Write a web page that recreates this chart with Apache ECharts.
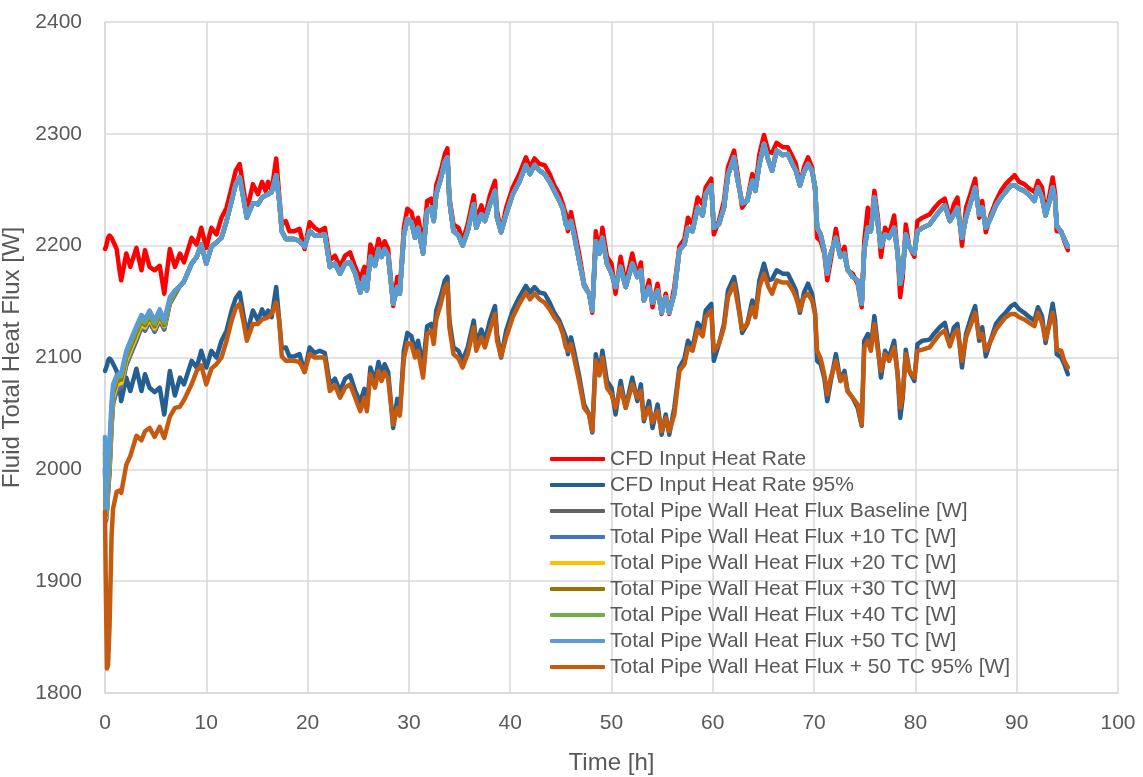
<!DOCTYPE html>
<html>
<head>
<meta charset="utf-8">
<title>Fluid Total Heat Flux</title>
<script src="https://cdn.jsdelivr.net/npm/echarts@6/dist/echarts.min.js"></script>
<style>
  html, body { margin: 0; padding: 0; background: #ffffff; }
  #chart { width: 1143px; height: 777px; }
</style>
</head>
<body>
<div id="chart"></div>
<script>
// Time axis shared by every run [h]
const hours = [
  0, 0.1, 0.2, 0.3, 0.45, 0.65, 0.8, 1.15, 1.4, 1.6, 2.1, 2.5, 3.1, 3.6, 3.95, 4.4, 4.9, 5.4, 5.85, 6.4, 6.9,
  7.4, 7.8, 8.55, 9.05, 9.5, 10.0, 10.5, 11.0, 11.5, 12.0, 12.5, 12.9, 13.3, 13.65, 14.0, 14.6, 15.1, 15.5, 15.85, 16.1, 16.45, 16.9, 17.2, 17.45, 17.85, 18.2, 18.7, 19.2, 19.7, 20.2, 20.7, 21.2, 21.7,
  22.2, 22.7, 23.2, 23.7, 24.2, 24.7, 25.2, 25.6, 25.85, 26.2, 26.65, 27.0, 27.3, 27.6, 27.95, 28.45, 28.85, 29.1, 29.5, 29.85, 30.25, 30.6, 30.9, 31.4, 31.8, 32.2, 32.45, 32.7, 33.15, 33.55, 33.8, 34.0, 34.4, 34.9, 35.3, 35.8, 36.4, 36.65, 37.15, 37.5, 38.0, 38.5, 38.7, 39.1, 39.6, 40.25, 40.9, 41.55, 41.95, 42.4, 42.9,
  43.4, 43.9, 44.35, 44.85, 45.2, 45.5, 45.7, 46.0, 46.3, 46.8, 47.3, 47.8, 48.1, 48.45, 48.8, 49.1, 49.55, 50.0, 50.4, 50.9, 51.4, 52.05, 52.55, 52.9, 53.2, 53.7, 54.05, 54.55, 54.95, 55.35, 55.7, 56.2, 56.7, 57.2, 57.55, 58.0, 58.5, 59.0, 59.3, 59.85, 60.1, 60.6, 61.1, 61.5, 62.1, 62.4, 62.9, 63.4, 63.9,
  64.2, 64.6, 65.05, 65.5, 65.85, 66.3, 66.9, 67.4, 67.9, 68.2, 68.6, 69.0, 69.4, 69.8, 70.1, 70.3, 70.65, 71.0, 71.3, 71.65, 72.15, 72.6, 73.0, 73.3, 73.8, 74.3, 74.7, 74.95, 75.3, 75.6, 75.95, 76.3, 76.6, 77.0, 77.4, 77.9, 78.25, 78.5, 78.75, 79.05, 79.4, 79.9, 80.2, 80.7, 81.4, 81.9, 82.4, 82.9, 83.4,
  83.8, 84.15, 84.6, 85.0, 85.5, 85.9, 86.3, 86.6, 86.95, 87.45, 87.95, 88.45, 88.9, 89.45, 89.8, 90.25, 90.75, 91.25, 91.75, 92.1, 92.5, 92.85, 93.25, 93.55, 93.8, 93.95, 94.4, 94.7, 95.05
];

// CFD Input Heat Rate [W]
const cfdInputHeatRate = [
  2197, 2199, 2203, 2207, 2209, 2207, 2206, 2197, 2180, 2169, 2193, 2181, 2198, 2178, 2196, 2181, 2178, 2182, 2157, 2197, 2181,
  2193, 2185, 2207, 2201, 2216, 2198, 2216, 2210, 2225, 2234, 2252, 2267, 2273, 2252, 2231, 2255, 2246, 2257, 2249, 2257, 2249, 2278, 2245, 2219, 2222, 2213, 2213, 2215, 2197, 2221, 2216, 2213, 2216,
  2187, 2191, 2181, 2191, 2194, 2181, 2170, 2181, 2166, 2201, 2190, 2206, 2196, 2204, 2197, 2146, 2172, 2160, 2216, 2233, 2230, 2216, 2225, 2201, 2240, 2242, 2228, 2254, 2267, 2282, 2287, 2243, 2219, 2216, 2204, 2219, 2245, 2222, 2236, 2225, 2245, 2258, 2231, 2212, 2234, 2252, 2264, 2279, 2270, 2278, 2273,
  2272, 2264, 2254, 2246, 2237, 2228, 2213, 2230, 2216, 2193, 2166, 2157, 2140, 2213, 2193, 2216, 2190, 2184, 2157, 2190, 2166, 2193, 2172, 2185, 2151, 2169, 2145, 2166, 2139, 2157, 2139, 2163, 2199, 2206, 2225, 2219, 2243, 2237, 2252, 2260, 2210, 2222, 2240, 2270, 2285, 2267, 2234, 2241, 2264,
  2252, 2282, 2299, 2284, 2283, 2292, 2288, 2288, 2279, 2273, 2254, 2270, 2279, 2270, 2249, 2207, 2204, 2193, 2169, 2187, 2215, 2190, 2199, 2178, 2175, 2166, 2145, 2204, 2234, 2216, 2249, 2225, 2190, 2216, 2210, 2227, 2193, 2154, 2172, 2219, 2199, 2190, 2222, 2225, 2228, 2234, 2239, 2242, 2224,
  2237, 2243, 2200, 2234, 2248, 2260, 2225, 2240, 2212, 2228, 2240, 2249, 2255, 2260, 2263, 2257, 2255, 2251, 2248, 2258, 2252, 2228, 2246, 2261, 2246, 2213, 2213, 2204, 2196
];

// CFD Input Heat Rate 95% [W]
const cfdInputHeatRate95 = [
  2088, 2089, 2093, 2097, 2099, 2097, 2096, 2088, 2076, 2061, 2082, 2070, 2090, 2070, 2085, 2073, 2069, 2073, 2049, 2088, 2066,
  2082, 2076, 2097, 2091, 2106, 2091, 2106, 2100, 2115, 2124, 2142, 2153, 2158, 2139, 2121, 2142, 2133, 2143, 2136, 2142, 2136, 2163, 2133, 2108, 2109, 2101, 2101, 2103, 2087, 2109, 2104, 2106, 2104,
  2076, 2081, 2070, 2081, 2084, 2070, 2060, 2072, 2055, 2091, 2079, 2096, 2085, 2094, 2087, 2037, 2063, 2049, 2106, 2122, 2119, 2106, 2115, 2093, 2128, 2130, 2118, 2142, 2155, 2169, 2172, 2133, 2109, 2106, 2097, 2109, 2133, 2112, 2125, 2115, 2133, 2146, 2121, 2100, 2124, 2142, 2154, 2164, 2158, 2163, 2158,
  2157, 2149, 2140, 2133, 2125, 2118, 2103, 2118, 2106, 2084, 2058, 2049, 2033, 2103, 2085, 2106, 2079, 2073, 2049, 2079, 2055, 2082, 2061, 2076, 2043, 2061, 2037, 2058, 2031, 2049, 2031, 2055, 2091, 2099, 2115, 2109, 2131, 2125, 2142, 2148, 2097, 2112, 2130, 2160, 2172, 2157, 2122, 2130, 2151,
  2139, 2169, 2184, 2169, 2170, 2178, 2175, 2175, 2166, 2160, 2140, 2158, 2166, 2157, 2139, 2097, 2094, 2082, 2061, 2079, 2103, 2079, 2088, 2070, 2064, 2055, 2039, 2115, 2121, 2109, 2137, 2109, 2082, 2106, 2100, 2115, 2085, 2046, 2064, 2107, 2088, 2079, 2112, 2115, 2116, 2122, 2127, 2131, 2112,
  2127, 2130, 2091, 2121, 2136, 2146, 2115, 2127, 2101, 2116, 2130, 2136, 2140, 2146, 2148, 2143, 2140, 2136, 2133, 2145, 2137, 2113, 2133, 2148, 2133, 2103, 2100, 2094, 2085
];

// Total Pipe Wall Heat Flux +50 TC [W]
const wallFluxPlus50 = [
  2029, 1963, 1985, 2000, 2025, 2060, 2076, 2084, 2086, 2086, 2106, 2115, 2128, 2138, 2134, 2142, 2133, 2143, 2133, 2154, 2160,
  2164, 2168, 2184, 2190, 2201, 2184, 2199, 2203, 2207, 2222, 2240, 2255, 2261, 2243, 2225, 2238, 2237, 2243, 2245, 2246, 2248, 2263, 2240, 2213, 2206, 2206, 2206, 2204, 2199, 2213, 2209, 2209, 2210,
  2181, 2184, 2175, 2184, 2185, 2175, 2158, 2172, 2160, 2190, 2182, 2197, 2190, 2197, 2191, 2148, 2163, 2157, 2209, 2224, 2221, 2207, 2216, 2193, 2231, 2234, 2222, 2246, 2260, 2275, 2279, 2240, 2213, 2209, 2200, 2213, 2237, 2216, 2228, 2222, 2237, 2249, 2225, 2212, 2228, 2246, 2257, 2272, 2264, 2272, 2267,
  2264, 2257, 2249, 2240, 2233, 2219, 2216, 2222, 2210, 2187, 2164, 2157, 2142, 2204, 2193, 2207, 2184, 2175, 2163, 2181, 2163, 2184, 2172, 2178, 2151, 2163, 2149, 2160, 2140, 2154, 2140, 2157, 2196, 2201, 2216, 2213, 2234, 2227, 2246, 2254, 2216, 2219, 2234, 2263, 2279, 2261, 2238, 2240, 2258,
  2249, 2273, 2291, 2276, 2267, 2285, 2281, 2282, 2272, 2267, 2254, 2266, 2273, 2267, 2252, 2216, 2210, 2196, 2175, 2193, 2207, 2190, 2193, 2179, 2172, 2169, 2148, 2196, 2216, 2213, 2243, 2219, 2199, 2210, 2207, 2216, 2193, 2166, 2178, 2210, 2199, 2193, 2213, 2216, 2219, 2225, 2231, 2236, 2222,
  2228, 2234, 2207, 2225, 2240, 2252, 2228, 2234, 2216, 2225, 2236, 2243, 2248, 2254, 2254, 2251, 2249, 2245, 2240, 2252, 2243, 2227, 2240, 2252, 2240, 2218, 2212, 2206, 2199
];

// Total Pipe Wall Heat Flux + 50 TC 95% [W]
const wallFluxPlus50At95 = [
  1962, 1880, 1822, 1825, 1860, 1941, 1965, 1980, 1981, 1979, 2004, 2012, 2030, 2026, 2034, 2037, 2029, 2038, 2028, 2047, 2055,
  2056, 2062, 2076, 2088, 2093, 2076, 2090, 2094, 2100, 2115, 2133, 2144, 2148, 2133, 2115, 2130, 2130, 2134, 2135, 2136, 2139, 2149, 2133, 2101, 2097, 2097, 2097, 2096, 2087, 2103, 2100, 2100, 2100,
  2070, 2075, 2064, 2073, 2076, 2064, 2052, 2064, 2052, 2085, 2073, 2088, 2079, 2087, 2081, 2040, 2055, 2048, 2099, 2113, 2112, 2100, 2106, 2082, 2121, 2124, 2112, 2134, 2148, 2163, 2166, 2127, 2103, 2099, 2091, 2103, 2127, 2106, 2118, 2109, 2125, 2139, 2115, 2101, 2118, 2136, 2148, 2158, 2152, 2157, 2152,
  2149, 2143, 2136, 2130, 2121, 2109, 2106, 2112, 2100, 2079, 2055, 2049, 2034, 2097, 2084, 2100, 2073, 2067, 2055, 2073, 2055, 2076, 2064, 2070, 2045, 2055, 2042, 2052, 2034, 2046, 2034, 2049, 2088, 2094, 2109, 2106, 2125, 2119, 2136, 2142, 2106, 2112, 2127, 2154, 2166, 2151, 2125, 2130, 2145,
  2136, 2163, 2175, 2163, 2157, 2169, 2167, 2167, 2160, 2154, 2142, 2154, 2157, 2151, 2139, 2106, 2099, 2085, 2067, 2082, 2097, 2079, 2084, 2070, 2064, 2058, 2040, 2109, 2115, 2106, 2130, 2106, 2088, 2103, 2097, 2109, 2085, 2055, 2067, 2103, 2088, 2082, 2106, 2107, 2109, 2115, 2121, 2124, 2110,
  2121, 2125, 2097, 2118, 2130, 2140, 2118, 2121, 2106, 2115, 2125, 2131, 2136, 2139, 2139, 2136, 2134, 2131, 2128, 2140, 2131, 2116, 2130, 2140, 2127, 2107, 2106, 2097, 2091
];

// Lower-TC wall flux runs: start-up values (first 21 samples); after that
// they coincide with the +50 TC run.
const wallFluxBaselineStart = [2000, 1954, 1963, 1978, 1998, 2038, 2059, 2070, 2072, 2073, 2093, 2102, 2115, 2127, 2124, 2132, 2123, 2133, 2125, 2148, 2156];
const wallFluxPlus10Start   = [2002, 1955, 1965, 1980, 2000, 2040, 2060, 2071, 2073, 2074, 2094, 2103, 2116, 2128, 2125, 2133, 2124, 2134, 2126, 2149, 2157];
const wallFluxPlus20Start   = [2008, 1957, 1970, 1985, 2006, 2045, 2064, 2075, 2077, 2077, 2097, 2106, 2119, 2130, 2127, 2135, 2126, 2136, 2128, 2150, 2158];
const wallFluxPlus30Start   = [2015, 1959, 1975, 1990, 2012, 2050, 2068, 2078, 2080, 2080, 2100, 2109, 2122, 2133, 2129, 2137, 2128, 2138, 2129, 2151, 2158];
const wallFluxPlus40Start   = [2022, 1961, 1980, 1995, 2018, 2055, 2072, 2081, 2083, 2083, 2103, 2112, 2125, 2135, 2131, 2139, 2130, 2140, 2131, 2152, 2159];

const withCommonTail = start => start.concat(wallFluxPlus50.slice(start.length));
const toPoints = values => hours.map((h, i) => [h, values[i]]);

const FONT = "'Liberation Sans', Arial, sans-serif";
const TEXT = '#595959';
const GRID = '#d9d9d9';

const runs = [
  { name: 'CFD Input Heat Rate', color: '#ff0000', values: cfdInputHeatRate },
  { name: 'CFD Input Heat Rate 95%', color: '#255e91', values: cfdInputHeatRate95 },
  { name: 'Total Pipe Wall Heat Flux Baseline [W]', color: '#636363', values: withCommonTail(wallFluxBaselineStart) },
  { name: 'Total Pipe Wall Heat Flux +10 TC [W]', color: '#4472c4', values: withCommonTail(wallFluxPlus10Start) },
  { name: 'Total Pipe Wall Heat Flux +20 TC [W]', color: '#ffc000', values: withCommonTail(wallFluxPlus20Start) },
  { name: 'Total Pipe Wall Heat Flux +30 TC [W]', color: '#997300', values: withCommonTail(wallFluxPlus30Start) },
  { name: 'Total Pipe Wall Heat Flux +40 TC [W]', color: '#70ad47', values: withCommonTail(wallFluxPlus40Start) },
  { name: 'Total Pipe Wall Heat Flux +50 TC [W]', color: '#5b9bd5', values: wallFluxPlus50 },
  { name: 'Total Pipe Wall Heat Flux + 50 TC 95% [W]', color: '#c55a11', values: wallFluxPlus50At95 }
];

const chart = echarts.init(document.getElementById('chart'), null, { renderer: 'canvas' });

chart.setOption({
  animation: false,
  backgroundColor: '#ffffff',
  textStyle: { fontFamily: FONT },
  grid: { left: 105, right: 25, top: 22, bottom: 84, containLabel: false, outerBoundsMode: 'none' },
  legend: {
    orient: 'vertical',
    left: 550,
    top: 448,
    padding: 0,
    itemWidth: 55,
    itemHeight: 4,
    itemGap: 4,
    icon: 'roundRect',
    textStyle: { fontFamily: FONT, fontSize: 21, color: TEXT, lineHeight: 22 },
    data: runs.map(r => r.name)
  },
  xAxis: {
    type: 'value',
    min: 0,
    max: 100,
    interval: 10,
    name: 'Time [h]',
    nameLocation: 'middle',
    nameGap: 58,
    nameTextStyle: { fontFamily: FONT, fontSize: 24, color: TEXT },
    axisLine: { show: true, onZero: false, lineStyle: { color: GRID, width: 1.5 } },
    axisTick: { show: false },
    axisLabel: { fontFamily: FONT, fontSize: 21, color: TEXT, margin: 20, formatter: v => String(v) },
    splitLine: { show: true, lineStyle: { color: GRID, width: 1.5 } }
  },
  yAxis: {
    type: 'value',
    min: 1800,
    max: 2400,
    interval: 100,
    name: 'Fluid Total Heat Flux [W]',
    nameLocation: 'middle',
    nameGap: 71,
    nameTextStyle: { fontFamily: FONT, fontSize: 24, color: TEXT },
    axisLine: { show: true, lineStyle: { color: GRID, width: 1.5 } },
    axisTick: { show: false },
    axisLabel: { fontFamily: FONT, fontSize: 21, color: TEXT, margin: 23, formatter: v => String(v) },
    splitLine: { show: true, lineStyle: { color: GRID, width: 1.5 } }
  },
  series: runs.map(r => ({
    name: r.name,
    type: 'line',
    data: toPoints(r.values),
    showSymbol: false,
    symbol: 'none',
    smooth: false,
    color: r.color,
    lineStyle: { color: r.color, width: 4.5, cap: 'round', join: 'round' },
    emphasis: { disabled: true }
  }))
});
</script>
</body>
</html>
